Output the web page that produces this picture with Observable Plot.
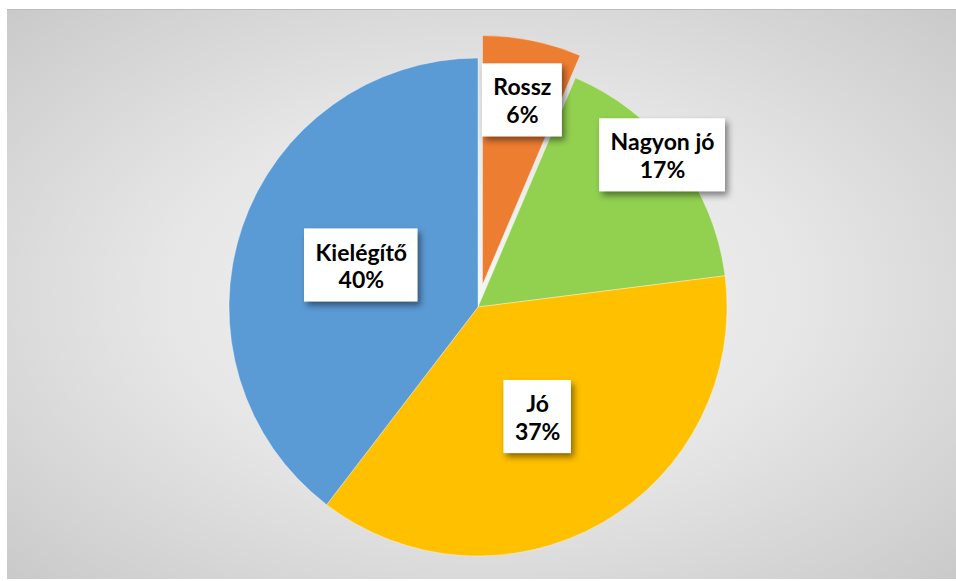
<!DOCTYPE html>
<html>
<head>
<meta charset="utf-8">
<script src="https://cdn.jsdelivr.net/npm/d3@7"></script>
<script src="https://cdn.jsdelivr.net/npm/@observablehq/plot@0.6"></script>
<style>
  html, body { margin: 0; padding: 0; background: #ffffff; }
  #wrap { position: relative; width: 956px; height: 581px; overflow: hidden; background: #ffffff; }
  #bg {
    position: absolute; left: 7px; top: 9px; width: 952px; height: 569px;
    border-top: 1px solid #bcbcbc;
    background: radial-gradient(ellipse 75% 75% at 50% 50%, #f5f5f5 0%, #e6e6e6 45%, #d2d2d2 80%, #c6c6c6 100%);
  }
  #chart { position: absolute; left: 0; top: 0; }
  #chart svg g[aria-label="rect"] rect { filter: drop-shadow(3px 4px 3px rgba(0,0,0,0.45)); }
</style>
</head>
<body>
<div id="wrap"><div id="bg"></div><div id="chart"></div></div>
<script>
// ---- data ----
const categories = ["Rossz", "Nagyon jó", "Jó", "Kielégítő"];
const values = [6.4, 16.6, 37.4, 39.6];
const percentLabels = ["6%", "17%", "37%", "40%"];
const colors = ["#ED7D31", "#92D050", "#FFC000", "#5B9BD5"];

// ---- layout config (not data) ----
const W = 956, H = 581, CX = 478, CY = 307, R = 249;
const explode = {"Rossz": 0.092};
const labelRadius = {"Rossz": 0.758, "Nagyon jó": 0.959, "Jó": 0.5, "Kielégítő": 0.5};
const labelAngleShiftDeg = {"Rossz": 0.5, "Nagyon jó": -2.5, "Jó": 1.5, "Kielégítő": 1};
const FONT_SIZE = 23, LINE_H = 1.2, PAD_X = 11, PAD_Y = 9;
const FONT_FAMILY = "Lato, 'Open Sans', sans-serif";

const data = categories.map((c, i) => ({category: c, value: values[i], pct: percentLabels[i]}));
const arcs = d3.pie().sort(null).value(d => d.value).startAngle(0)(data);

// label table built from pie angles
const ctx = document.createElement("canvas").getContext("2d");
ctx.font = `bold ${FONT_SIZE}px ${FONT_FAMILY}`;
const labels = arcs.map(a => {
  const m = (a.startAngle + a.endAngle) / 2;
  const ml = m + (labelAngleShiftDeg[a.data.category] || 0) * Math.PI / 180;
  const off = explode[a.data.category] || 0;
  const f = labelRadius[a.data.category];
  const lx = Math.sin(m) * off + Math.sin(ml) * f;
  const ly = Math.cos(m) * off + Math.cos(ml) * f;
  const tw = Math.max(ctx.measureText(a.data.category).width, ctx.measureText(a.data.pct).width);
  const hw = (tw / 2 + PAD_X) / R;
  const hh = (2 * FONT_SIZE * LINE_H + PAD_Y * 2) / 2 / R;
  return {x: lx, y: ly, x1: lx - hw, x2: lx + hw, y1: ly - hh, y2: ly + hh,
          text: a.data.category + "\n" + a.data.pct};
});

let colorFn;
try {
  const cs = Plot.scale({color: {type: "ordinal", domain: categories, range: colors}});
  colorFn = v => cs.apply(v);
} catch (e) {
  colorFn = d3.scaleOrdinal(categories, colors);
}

function pieMark(index, scales) {
  const x0 = scales.x(0), y0 = scales.y(0);
  const r = scales.x(1) - scales.x(0);
  const arc = d3.arc().innerRadius(0).outerRadius(r);
  const g = d3.create("svg:g").attr("aria-label", "pie");
  g.selectAll("path").data(arcs).join("path")
    .attr("transform", d => {
      const m = (d.startAngle + d.endAngle) / 2;
      const off = (explode[d.data.category] || 0) * r;
      return `translate(${x0 + off * Math.sin(m)},${y0 - off * Math.cos(m)})`;
    })
    .attr("d", arc)
    .attr("fill", d => colorFn(d.data.category))
    .attr("stroke", "rgba(255,255,255,0.35)")
    .attr("stroke-width", 1);
  return g.node();
}

const chart = Plot.plot({
  width: W, height: H, margin: 0,
  x: {domain: [-1, 1], range: [CX - R, CX + R], axis: null},
  y: {domain: [-1, 1], range: [CY + R, CY - R], axis: null},
  style: {background: "transparent", overflow: "visible"},
  marks: [
    pieMark,
    Plot.rect(labels, {x1: "x1", x2: "x2", y1: "y1", y2: "y2", fill: "#ffffff"}),
    Plot.text(labels, {x: "x", y: "y", text: "text", fontSize: FONT_SIZE, fontWeight: "bold",
      fontFamily: FONT_FAMILY, fill: "#000000", lineHeight: LINE_H})
  ]
});
document.getElementById("chart").appendChild(chart);
</script>
</body>
</html>
